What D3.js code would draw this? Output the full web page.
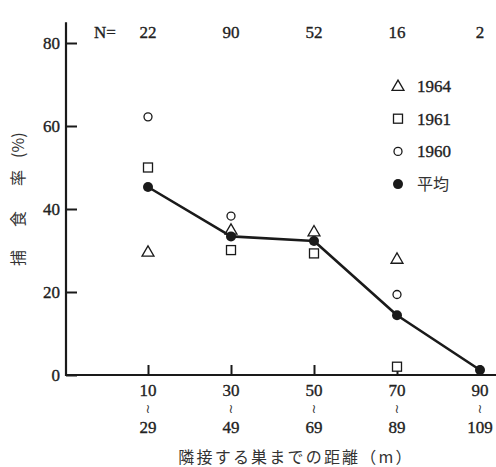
<!DOCTYPE html>
<html>
<head>
<meta charset="utf-8">
<script src="https://cdn.jsdelivr.net/npm/d3@7"></script>
<style>
  html, body { margin: 0; padding: 0; background: #fff; }
  svg { display: block; }
  .num { font-family: "Liberation Serif", "DejaVu Serif", serif; font-size: 17px; fill: #222; stroke: #222; stroke-width: 0.35px; }
  .jp { font-family: "Noto Sans CJK JP", sans-serif; font-size: 16px; fill: #333; }
</style>
</head>
<body>
<svg id="chart" width="496" height="467"></svg>
<script>
// Distance classes to the nearest neighbouring nest (m)
const classStart = ["10", "30", "50", "70", "90"];
const classEnd   = ["29", "49", "69", "89", "109"];
const sampleN    = [22, 90, 52, 16, 2];

// Predation rate (%) per year; null = not shown
const rate1964 = [29.7, 35.0, 34.6, 28.0, null];
const rate1961 = [50.0, 30.1, 29.3, 2.0, null];
const rate1960 = [62.2, 38.3, null, 19.4, null];
const rateMean = [45.3, 33.4, 32.3, 14.4, 1.2];

const yTicks = [0, 20, 40, 60, 80];

const svg = d3.select("#chart");
const x0 = 66, y0 = 375;

const x = d3.scalePoint().domain(classStart).range([148, 480]);
const y = d3.scaleLinear().domain([0, 80]).range([y0, 43]);

const ink = "#1a1a1a";

// Y axis: ticks point inward
const yAxis = svg.append("g")
  .attr("transform", `translate(${x0},0)`)
  .call(d3.axisLeft(y).tickValues(yTicks).tickSize(-11).tickPadding(6));
yAxis.select(".domain").remove();
yAxis.selectAll(".tick line").attr("stroke", ink).attr("stroke-width", 2);
yAxis.selectAll(".tick text").attr("class", "num").attr("font-family", null).attr("font-size", null).attr("fill", null);

// X axis ticks, pointing upward
const xAxis = svg.append("g")
  .attr("transform", `translate(0,${y0})`)
  .call(d3.axisBottom(x).tickSize(-10).tickFormat(""));
xAxis.select(".domain").remove();
xAxis.selectAll(".tick line").attr("stroke", ink).attr("stroke-width", 2);

// Axis lines
svg.append("line").attr("x1", x0).attr("x2", x0).attr("y1", y(85)).attr("y2", y0 + 1)
  .attr("stroke", ink).attr("stroke-width", 2.2);
svg.append("line").attr("x1", x0).attr("x2", 496).attr("y1", y0).attr("y2", y0)
  .attr("stroke", ink).attr("stroke-width", 2.2);

// Class labels: start, vertical wave dash, end
classStart.forEach((c, i) => {
  const cx = x(c);
  svg.append("text").attr("class", "num").attr("x", cx).attr("y", 396)
    .attr("text-anchor", "middle").text(c);
  svg.append("text")
    .attr("transform", `translate(${cx},409) rotate(90)`)
    .attr("text-anchor", "middle").attr("dy", "0.3em")
    .attr("font-family", "DejaVu Sans").attr("font-size", 13).attr("fill", "#333")
    .text("~");
  svg.append("text").attr("class", "num").attr("x", cx).attr("y", 433)
    .attr("text-anchor", "middle").text(classEnd[i]);
});

// Sample sizes along the top
svg.append("text").attr("class", "num").attr("x", 105).attr("y", 38)
  .attr("text-anchor", "middle").text("N=");
sampleN.forEach((n, i) => {
  svg.append("text").attr("class", "num").attr("x", x(classStart[i])).attr("y", 38)
    .attr("text-anchor", "middle").text(n);
});

// Axis titles
const yTitle = svg.append("text").attr("class", "jp")
  .attr("transform", "translate(24,266) rotate(-90)")
  .attr("text-anchor", "start");
yTitle.append("tspan").text("捕");
yTitle.append("tspan").attr("dx", 23).text("食");
yTitle.append("tspan").attr("dx", 25).text("率");
yTitle.append("tspan").attr("dx", 12).text("(%)");
svg.append("text").attr("class", "jp").attr("x", 296).attr("y", 463)
  .attr("text-anchor", "middle").attr("letter-spacing", 2.2).text("隣接する巣までの距離（m）");

// Marker shapes
const tri = d3.symbol().type(d3.symbolTriangle).size(62);
function drawTriangle(g, cx, cy) {
  g.append("path").attr("d", tri()).attr("transform", `translate(${cx},${cy + 1})`)
    .attr("fill", "#fff").attr("stroke", ink).attr("stroke-width", 1.3);
}
function drawSquare(g, cx, cy) {
  g.append("rect").attr("x", cx - 4.5).attr("y", cy - 4.5).attr("width", 9).attr("height", 9)
    .attr("fill", "#fff").attr("stroke", ink).attr("stroke-width", 1.3);
}
function drawCircle(g, cx, cy) {
  g.append("circle").attr("cx", cx).attr("cy", cy).attr("r", 4)
    .attr("fill", "#fff").attr("stroke", ink).attr("stroke-width", 1.3);
}
function drawDot(g, cx, cy) {
  g.append("circle").attr("cx", cx).attr("cy", cy).attr("r", 5).attr("fill", ink);
}

const marks = svg.append("g");
classStart.forEach((c, i) => {
  if (rate1964[i] != null) drawTriangle(marks, x(c), y(rate1964[i]));
  if (rate1961[i] != null) drawSquare(marks, x(c), y(rate1961[i]));
  if (rate1960[i] != null) drawCircle(marks, x(c), y(rate1960[i]));
});

// Mean line with filled dots
const line = d3.line().x((d, i) => x(classStart[i])).y(d => y(d));
svg.append("path").datum(rateMean).attr("d", line)
  .attr("fill", "none").attr("stroke", ink).attr("stroke-width", 2.6).attr("stroke-linejoin", "round");
const dots = svg.append("g");
rateMean.forEach((v, i) => drawDot(dots, x(classStart[i]), y(v)));

// Legend
const legend = [
  { label: "1964", draw: drawTriangle, cls: "num" },
  { label: "1961", draw: drawSquare, cls: "num" },
  { label: "1960", draw: drawCircle, cls: "num" },
  { label: "平均", draw: drawDot, cls: "jp" }
];
const lg = svg.append("g");
legend.forEach((d, i) => {
  const cy = 86 + i * 32.7;
  d.draw(lg, 398, cy);
  lg.append("text").attr("class", d.cls).attr("x", 417).attr("y", cy + 6).text(d.label);
});
</script>
</body>
</html>
